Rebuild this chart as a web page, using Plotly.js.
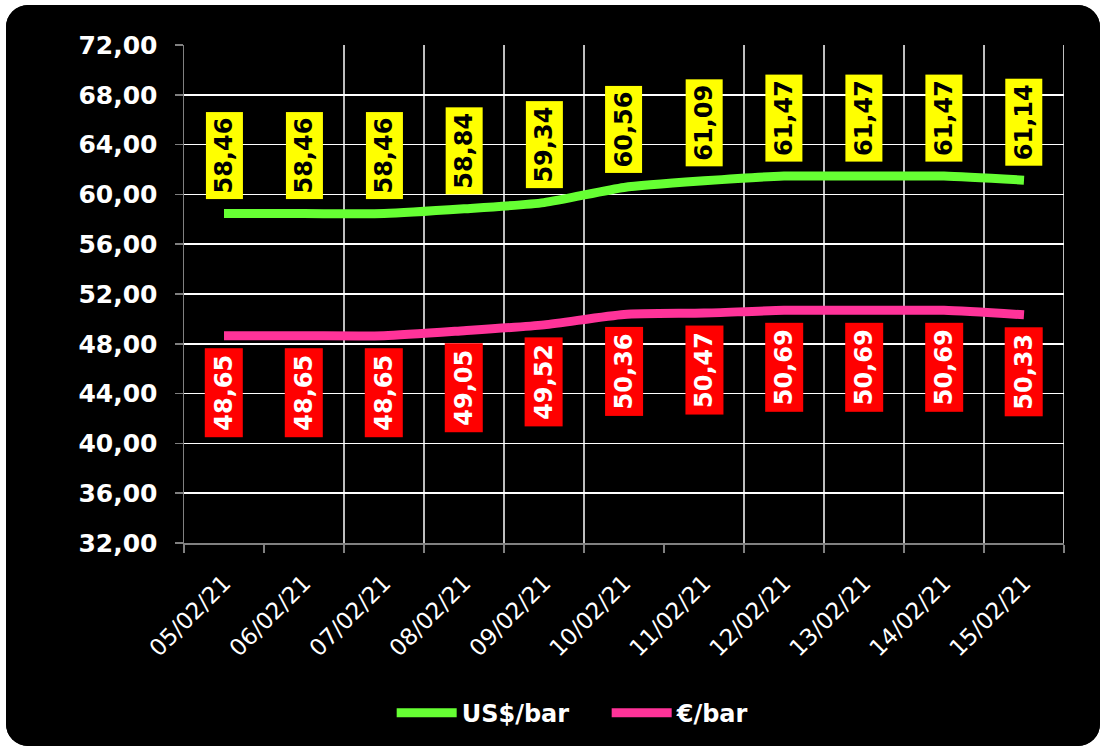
<!DOCTYPE html>
<html>
<head>
<meta charset="utf-8">
<script src="https://cdn.plot.ly/plotly-3.0.1.min.js"></script>
<style>
  html, body { margin: 0; padding: 0; background: #ffffff; width: 1102px; height: 749px; overflow: hidden; }
  #frame { position: absolute; left: 6px; top: 5px; width: 1094px; height: 741px; border-radius: 22px; overflow: hidden; background: #000; }
  #chart { width: 1094px; height: 741px; }
</style>
</head>
<body>
<div id="frame"><div id="chart"></div></div>
<script>
const dates = ["05/02/21","06/02/21","07/02/21","08/02/21","09/02/21","10/02/21","11/02/21","12/02/21","13/02/21","14/02/21","15/02/21"];
const usdBar = [58.46, 58.46, 58.46, 58.84, 59.34, 60.56, 61.09, 61.47, 61.47, 61.47, 61.14];
const eurBar = [48.65, 48.65, 48.65, 49.05, 49.52, 50.36, 50.47, 50.69, 50.69, 50.69, 50.33];
const seriesNames = ["US$/bar", "€/bar"];
const yTicks = [32, 36, 40, 44, 48, 52, 56, 60, 64, 68, 72];

const FONT = "DejaVu Sans, Verdana, sans-serif";
const fmt = v => v.toFixed(2).replace('.', ',');

const traces = [
  { type: 'scatter', mode: 'lines', name: seriesNames[0], x: dates, y: usdBar,
    line: { color: '#66FF33', width: 9, shape: 'spline', smoothing: 0.6 }, hoverinfo: 'skip' },
  { type: 'scatter', mode: 'lines', name: seriesNames[1], x: dates, y: eurBar,
    line: { color: '#FF3399', width: 9, shape: 'spline', smoothing: 0.6 }, hoverinfo: 'skip' }
];

const annotations = [];
dates.forEach((d, i) => {
  annotations.push({ x: d, y: usdBar[i], xref: 'x', yref: 'y', text: fmt(usdBar[i]), showarrow: false,
    textangle: -90, yanchor: 'bottom', yshift: 14, bgcolor: '#FFFF00', borderpad: 3, width: 80, height: 30,
    font: { family: FONT, size: 24, color: '#000000', weight: 'bold' } });
  annotations.push({ x: d, y: eurBar[i], xref: 'x', yref: 'y', text: fmt(eurBar[i]), showarrow: false,
    textangle: -90, yanchor: 'top', yshift: -12, bgcolor: '#FF0000', borderpad: 3, width: 82, height: 31,
    font: { family: FONT, size: 24, color: '#FFFFFF', weight: 'bold' } });
});

// vertical grid lines at category boundaries (as in reference, some are absent)
const gridBoundaries = [1.5, 2.5, 3.5, 4.5, 6.5, 7.5, 8.5, 9.5, 10.5];
const shapes = gridBoundaries.map(b => ({ type: 'line', xref: 'x', yref: 'paper', x0: b, x1: b, y0: 0, y1: 1,
  line: { color: '#ffffff', width: 1.5 }, layer: 'below' }));

const layout = {
  width: 1094, height: 741,
  paper_bgcolor: '#000000', plot_bgcolor: '#000000',
  margin: { l: 178, r: 36, t: 40, b: 202 },
  separators: ',.',
  showlegend: true,
  legend: { orientation: 'h', x: 0.236, xanchor: 'left', y: -0.339, yanchor: 'middle',
    font: { family: FONT, size: 24, color: '#ffffff', weight: 'bold' }, itemwidth: 60, entrywidth: 140,
    bgcolor: 'rgba(0,0,0,0)' },
  xaxis: { type: 'category', range: [-0.5, 10.5], tickson: 'boundaries', showgrid: false,
    ticks: 'outside', ticklen: 8, tickcolor: '#808080', tickwidth: 1.5,
    showline: true, linecolor: '#808080', linewidth: 1.5, tickangle: -45,
    tickfont: { family: FONT, size: 23, color: '#ffffff' }, ticklabelstandoff: 16, zeroline: false },
  yaxis: { range: [32, 72], tickmode: 'array', tickvals: yTicks, tickformat: '.2f',
    showgrid: true, gridcolor: '#ffffff', gridwidth: 1.5,
    ticks: 'outside', ticklen: 8, tickcolor: '#808080', tickwidth: 1.5,
    showline: true, linecolor: '#808080', linewidth: 1.5, zeroline: false,
    tickfont: { family: FONT, size: 25, color: '#ffffff', weight: 'bold' }, ticklabelstandoff: 12 },
  annotations: annotations,
  shapes: shapes
};

Plotly.newPlot('chart', traces, layout, { displayModeBar: false, staticPlot: true });
</script>
</body>
</html>
